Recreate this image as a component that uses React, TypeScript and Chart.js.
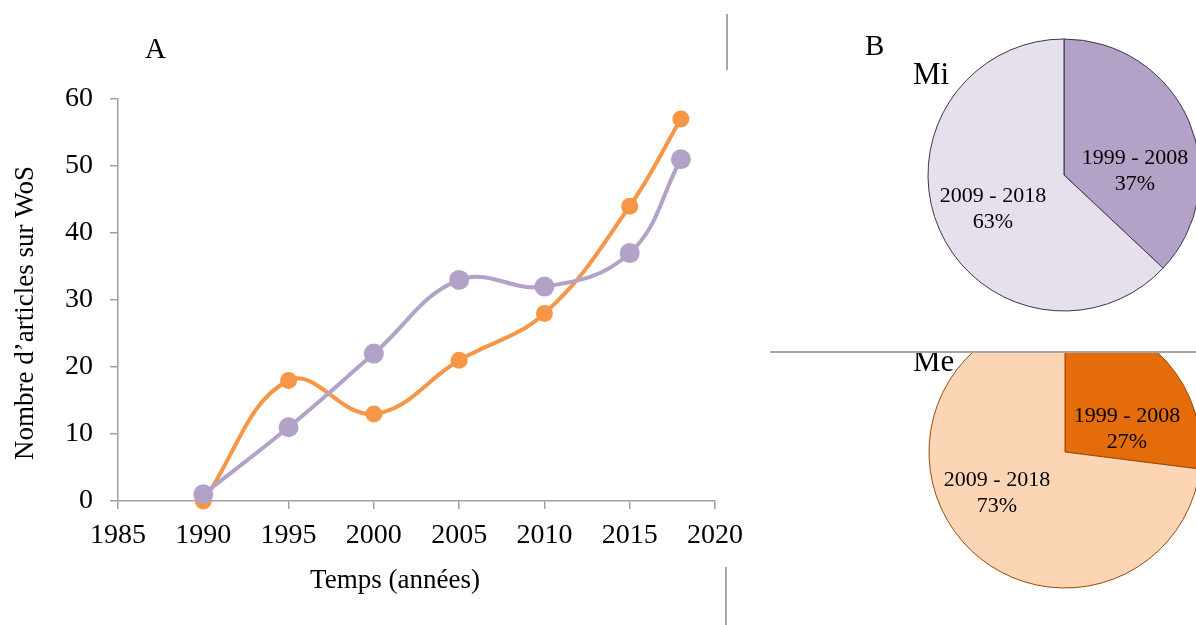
import React, { useEffect, useRef } from 'react';
import { Chart, registerables } from 'chart.js';

Chart.register(...registerables);

// ---- data ----
const years = [1990, 1995, 2000, 2005, 2010, 2015, 2018];
const miCounts = [1, 11, 22, 33, 32, 37, 51];
const meCounts = [0, 18, 13, 21, 28, 44, 57];
const xTickMin = 1985;
const xTickMax = 2020;
const xTickStep = 5;
const yTickMin = 0;
const yTickMax = 60;
const yTickStep = 10;
const periods = ['1999 - 2008', '2009 - 2018'];
const miShares = [37, 63];
const meShares = [27, 73];

// ---- styles ----
const SERIF = '"Liberation Serif", "Times New Roman", serif';
const AXIS = '#a0a0a0';
const PURPLE = '#B3A2C7';
const ORANGE = '#F79646';

const miLabelPos = [
  { dx: 71, dy: -11 },
  { dx: -71, dy: 27 },
];
const meLabelPos = [
  { dx: 62, dy: -30 },
  { dx: -68, dy: 34 },
];

function pieTextPlugin(id: string, shares: number[], pos: { dx: number; dy: number }[], extra: { text: string; x: number; y: number; size: number }[]) {
  return {
    id,
    afterDraw(chart: any) {
      const ctx = chart.ctx;
      const arc = chart.getDatasetMeta(0).data[0];
      const cx = arc.x;
      const cy = arc.y;
      ctx.save();
      ctx.fillStyle = '#000';
      ctx.textBaseline = 'alphabetic';
      ctx.textAlign = 'center';
      ctx.font = `22px ${SERIF}`;
      shares.forEach((s, i) => {
        const p = pos[i];
        ctx.fillText(periods[i], cx + p.dx, cy + p.dy);
        ctx.fillText(`${s}%`, cx + p.dx, cy + p.dy + 25.5);
      });
      ctx.textAlign = 'left';
      extra.forEach((e) => {
        ctx.font = `${e.size}px ${SERIF}`;
        ctx.fillText(e.text, e.x, e.y);
      });
      ctx.restore();
    },
  };
}

const lineTextPlugin = {
  id: 'lineText',
  afterDraw(chart: any) {
    const ctx = chart.ctx;
    ctx.save();
    ctx.fillStyle = '#000';
    ctx.textBaseline = 'alphabetic';
    ctx.font = `29px ${SERIF}`;
    ctx.textAlign = 'left';
    ctx.fillText('A', 145, 58);
    ctx.font = `27px ${SERIF}`;
    ctx.textAlign = 'center';
    ctx.fillText('Temps (années)', 395, 588);
    ctx.translate(33, 313);
    ctx.rotate(-Math.PI / 2);
    ctx.fillText('Nombre d’articles sur WoS', 0, 0);
    ctx.restore();
  },
};

export default function App() {
  const lineRef = useRef<HTMLCanvasElement>(null);
  const miRef = useRef<HTMLCanvasElement>(null);
  const meRef = useRef<HTMLCanvasElement>(null);

  useEffect(() => {
    Chart.defaults.font.family = SERIF;
    const charts: Chart[] = [];

    const tickFont = { size: 28, family: SERIF };
    const gridCfg = { drawOnChartArea: false, drawTicks: true, tickLength: 8, color: AXIS, lineWidth: 1.5 };
    const borderCfg = { color: AXIS, width: 1.5 };

    charts.push(
      new Chart(lineRef.current as HTMLCanvasElement, {
        type: 'line',
        data: {
          datasets: [
            {
              label: 'Mi',
              data: years.map((x, i) => ({ x, y: miCounts[i] })),
              borderColor: PURPLE,
              backgroundColor: PURPLE,
              pointBackgroundColor: PURPLE,
              pointBorderWidth: 0,
              pointRadius: 10,
              borderWidth: 4,
              tension: 0.4,
              fill: false,
              clip: false,
            } as any,
            {
              label: 'Me',
              data: years.map((x, i) => ({ x, y: meCounts[i] })),
              borderColor: ORANGE,
              backgroundColor: ORANGE,
              pointBackgroundColor: ORANGE,
              pointBorderWidth: 0,
              pointRadius: 8.5,
              borderWidth: 4,
              tension: 0.4,
              fill: false,
              clip: false,
            } as any,
          ],
        },
        options: {
          responsive: true,
          maintainAspectRatio: false,
          animation: false,
          events: [],
          layout: { padding: { top: 99, right: 45, left: 0, bottom: 0 } },
          plugins: { legend: { display: false }, tooltip: { enabled: false }, title: { display: false } },
          scales: {
            x: {
              type: 'linear',
              min: xTickMin,
              max: xTickMax,
              afterFit: (s: any) => {
                s.height = 124;
              },
              ticks: {
                stepSize: xTickStep,
                callback: (v: any) => String(v),
                font: tickFont,
                color: '#000',
                padding: 10,
                maxRotation: 0,
                autoSkip: false,
              },
              grid: gridCfg,
              border: borderCfg,
            },
            y: {
              type: 'linear',
              min: yTickMin,
              max: yTickMax,
              afterFit: (s: any) => {
                s.width = 118;
              },
              ticks: {
                stepSize: yTickStep,
                callback: (v: any) => String(v),
                font: tickFont,
                color: '#000',
                padding: 17,
              },
              grid: gridCfg,
              border: borderCfg,
            },
          } as any,
        },
        plugins: [lineTextPlugin],
      })
    );

    charts.push(
      new Chart(miRef.current as HTMLCanvasElement, {
        type: 'pie',
        data: {
          labels: periods,
          datasets: [
            {
              data: miShares,
              backgroundColor: [PURPLE, '#E6E0EC'],
              borderColor: '#3F3151',
              borderWidth: 1,
              radius: 136,
              clip: false,
            } as any,
          ],
        },
        options: {
          responsive: true,
          maintainAspectRatio: false,
          animation: false,
          events: [],
          layout: { padding: { left: 72, right: 0, top: 0, bottom: 2 } },
          plugins: { legend: { display: false }, tooltip: { enabled: false } },
        } as any,
        plugins: [
          pieTextPlugin('miText', miShares, miLabelPos, [
            { text: 'B', x: 5, y: 55, size: 29 },
            { text: 'Mi', x: 53, y: 84, size: 31 },
          ]),
        ],
      })
    );

    charts.push(
      new Chart(meRef.current as HTMLCanvasElement, {
        type: 'pie',
        data: {
          labels: periods,
          datasets: [
            {
              data: meShares,
              backgroundColor: ['#E46C0A', '#FCD5B5'],
              borderColor: '#984807',
              borderWidth: 1,
              radius: 136,
              clip: false,
            } as any,
          ],
        },
        options: {
          responsive: true,
          maintainAspectRatio: false,
          animation: false,
          events: [],
          layout: { padding: { left: 74, right: 0, top: 0, bottom: 73 } },
          plugins: { legend: { display: false }, tooltip: { enabled: false } },
        } as any,
        plugins: [pieTextPlugin('meText', meShares, meLabelPos, [{ text: 'Me', x: 53, y: 19, size: 31 }])],
      })
    );

    return () => {
      charts.forEach((c) => c.destroy());
    };
  }, []);

  const abs = (l: number, t: number, w: number, h: number): React.CSSProperties => ({
    position: 'absolute',
    left: l,
    top: t,
    width: w,
    height: h,
  });

  return (
    <div style={{ position: 'fixed', left: 0, top: 0, width: 1196, height: 625, overflow: 'hidden', background: '#fff' }}>
      <div style={abs(0, 0, 760, 625)}>
        <canvas ref={lineRef} style={{ display: 'block' }} />
      </div>
      <div style={abs(860, 0, 336, 352)}>
        <canvas ref={miRef} style={{ display: 'block' }} />
      </div>
      <div style={abs(860, 352, 336, 273)}>
        <canvas ref={meRef} style={{ display: 'block' }} />
      </div>
      <div style={{ ...abs(726, 14, 2, 56), background: '#a6a6a6' }} />
      <div style={{ ...abs(725, 567, 2, 58), background: '#a6a6a6' }} />
      <div style={{ ...abs(770, 351, 426, 2), background: '#a6a6a6' }} />
    </div>
  );
}
